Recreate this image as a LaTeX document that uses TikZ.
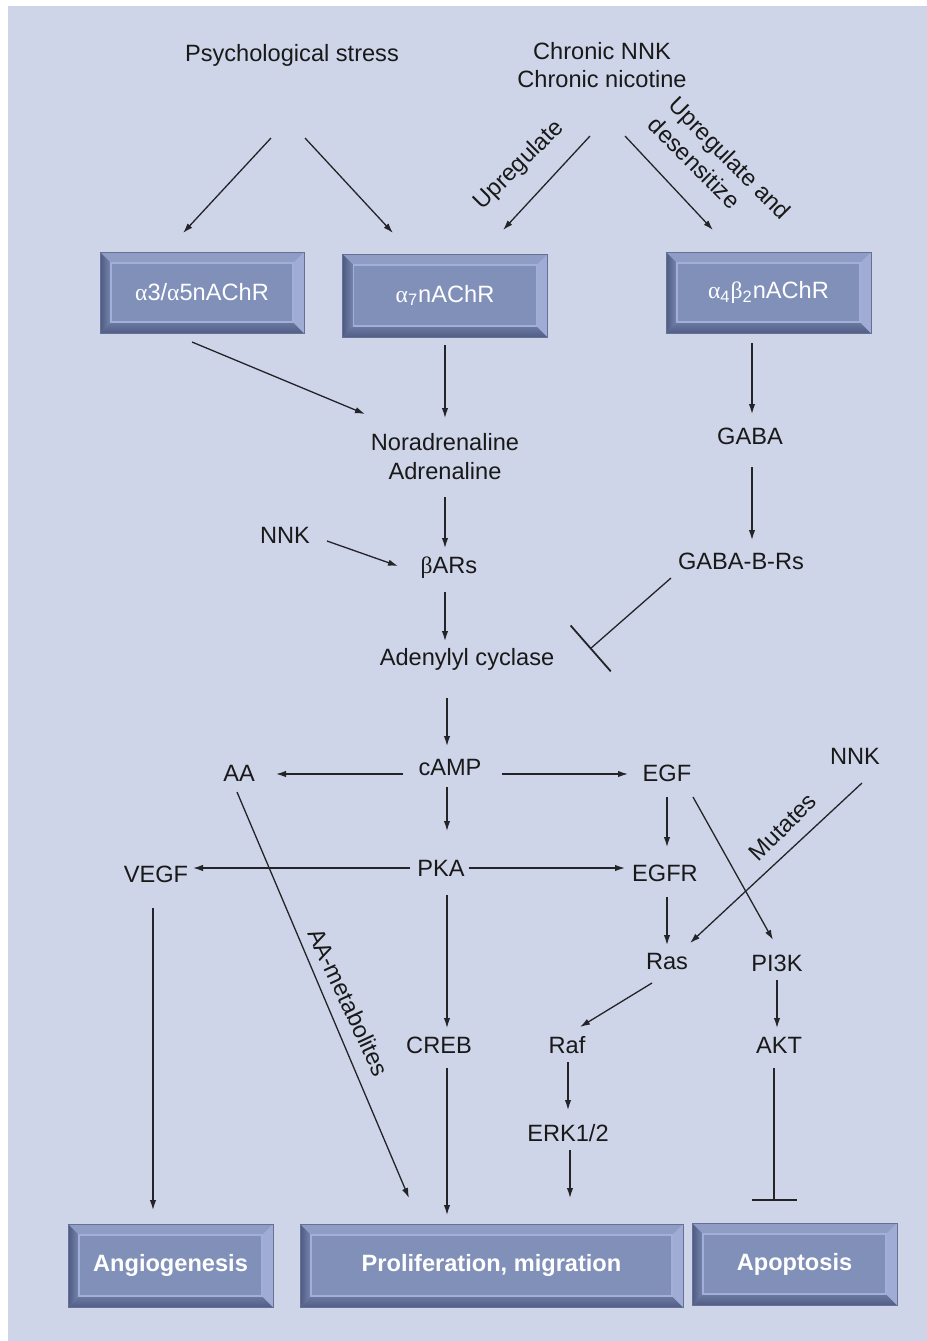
\documentclass[tikz,border=0pt]{standalone}
\usepackage{fontspec}
\setmainfont{Liberation Sans}
\newfontfamily\grk{Liberation Serif}
\usetikzlibrary{arrows.meta,calc}
\definecolor{bgc}{RGB}{207,213,233}
\definecolor{boxface}{RGB}{128,144,185}
\definecolor{boxline}{RGB}{100,112,150}
\definecolor{bevtop}{RGB}{143,157,196}
\definecolor{bevleftA}{RGB}{78,90,128}
\definecolor{bevleftB}{RGB}{120,135,177}
\definecolor{bevbotA}{RGB}{108,121,160}
\definecolor{bevbotB}{RGB}{82,94,134}
\definecolor{bevright}{RGB}{160,172,212}
\definecolor{innerline}{RGB}{162,175,214}
\definecolor{linec}{RGB}{35,35,40}
\newlength\bevw \setlength\bevw{5.5pt}
\newcommand\fs{\fontsize{11.8pt}{14.2pt}\selectfont}
\newcommand\galpha{{\grk α}}
\newcommand\gbeta{{\grk β}}
\tikzset{
 bev/.style 2 args={rectangle, minimum width=#1, minimum height=#2, inner sep=0pt,
  fill=boxface, draw=boxline, line width=0.5pt, text=white, font=\fs,
  path picture={
   \path (path picture bounding box.north west) coordinate (bNW)
         (path picture bounding box.north east) coordinate (bNE)
         (path picture bounding box.south west) coordinate (bSW)
         (path picture bounding box.south east) coordinate (bSE);
   \fill[bevtop] (bNW) -- (bNE) -- ([shift={(-\bevw,-\bevw)}]bNE) -- ([shift={(\bevw,-\bevw)}]bNW) -- cycle;
   \shade[left color=bevleftA, right color=bevleftB] (bNW) -- ([shift={(\bevw,-\bevw)}]bNW) -- ([shift={(\bevw,\bevw)}]bSW) -- (bSW) -- cycle;
   \shade[top color=bevbotA, bottom color=bevbotB] (bSW) -- ([shift={(\bevw,\bevw)}]bSW) -- ([shift={(-\bevw,\bevw)}]bSE) -- (bSE) -- cycle;
   \fill[bevright] (bNE) -- (bSE) -- ([shift={(-\bevw,\bevw)}]bSE) -- ([shift={(-\bevw,-\bevw)}]bNE) -- cycle;
   \draw[innerline, line width=0.6pt] ([shift={(\bevw,-\bevw)}]bNW) rectangle ([shift={(-\bevw,\bevw)}]bSE);
  }},
 txt/.style={font=\fs, inner sep=0pt, text height=9pt, text depth=2.5pt, text=black!90},
 multi/.style={font=\fs, inner sep=0pt, align=center, text=black!90},
 arr/.style={draw=linec, line width=0.65pt, -{Latex[length=5pt,width=3.2pt]}},
 inh/.style={draw=linec, line width=0.65pt, -{Bar[width=#1,line width=0.9pt]}},
}
\begin{document}
\begin{tikzpicture}[x=0.5pt,y=-0.5pt]
\useasboundingbox (0,0) rectangle (927,1341);
\fill[bgc] (8,6) rectangle (927,1341);

% text nodes
\node[txt] (ps) at (292,55) {Psychological stress};
\node[multi] (chr) at (602,65) {Chronic NNK\\Chronic nicotine};
\node[txt, rotate=45] (up1) at (519,165) {Upregulate};
\node[multi, align=left, rotate=-45] (up2) at (720,168) {Upregulate and\\desensitize};

% boxes
\node[bev={102pt}{40.5pt}] (a3) at (202,292.5) {\galpha3/\galpha5nAChR};
\node[bev={102.5pt}{41.5pt}] (a7) at (445,295.5) {\galpha\textsubscript{7}nAChR};
\node[bev={102.5pt}{40.5pt}] (a4) at (768.5,292.5) {\galpha\textsubscript{4}\gbeta\textsubscript{2}nAChR};

\node[multi] (nor) at (445,456.5) {Noradrenaline\\Adrenaline};
\node[txt] (gaba) at (750,438) {GABA};
\node[txt] (bars) at (449,567) {\gbeta ARs};
\node[txt] (nnk1) at (285,537) {NNK};
\node[txt] (gbr) at (741,563) {GABA-B-Rs};
\node[txt] (ac) at (467,659) {Adenylyl cyclase};
\node[txt] (camp) at (450,769) {cAMP};
\node[txt] (aa) at (239,775) {AA};
\node[txt] (egf) at (667,775) {EGF};
\node[txt] (pka) at (441,870) {PKA};
\node[txt] (vegf) at (156,876) {VEGF};
\node[txt] (egfr) at (665,875) {EGFR};
\node[txt] (nnk2) at (855,758) {NNK};
\node[txt, rotate=45] (mut) at (784,828) {Mutates};
\node[txt] (ras) at (667,963) {Ras};
\node[txt] (pi3k) at (777,965) {PI3K};
\node[txt] (raf) at (567,1047) {Raf};
\node[txt] (akt) at (779,1047) {AKT};
\node[txt] (creb) at (439,1047) {CREB};
\node[txt] (erk) at (568,1135) {ERK1/2};
\node[txt, rotate=-65] (aam) at (347,1003) {AA-metabolites};

\node[bev={102.5pt}{41.5pt}, font=\fs\bfseries] (ang) at (170.5,1265.5) {Angiogenesis};
\node[bev={191.5pt}{41.5pt}, font=\fs\bfseries] (pro) at (491.5,1265.5) {Proliferation, migration};
\node[bev={102.5pt}{41pt}, font=\fs\bfseries] (apo) at (794.5,1264) {Apoptosis};

% connectors
\draw[arr] ($(ps)+(-21,83)$) -- ($(a3)+(-19,-59.5)$);
\draw[arr] ($(ps)+(13,83)$) -- ($(a7)+(-52,-62.5)$);
\draw[arr] ($(chr)+(-12,71)$) -- ($(a7)+(58,-65.5)$);
\draw[arr] ($(chr)+(23,71)$) -- ($(a4)+(-55.5,-62.5)$);
\draw[arr] ($(a3)+(-10,49.5)$) -- ($(nor)+(-80,-42.5)$);
\draw[arr] ($(a7)+(0,49.5)$) -- ($(nor)+(0,-38.5)$);
\draw[arr] ($(a4)+(-16.5,50.5)$) -- ($(gaba)+(2,-24)$);
\draw[arr] ($(nor)+(0,40.5)$) -- ($(bars)+(-4,-19)$);
\draw[arr] ($(nnk1)+(42,4)$) -- ($(bars)+(-51,-1)$);
\draw[arr] ($(gaba)+(2,29)$) -- ($(gbr)+(11,-23)$);
\draw[arr] ($(bars)+(-4,25)$) -- ($(ac)+(-22,-18)$);
\draw[inh=30.5pt] ($(gbr)+(-70,15)$) -- ($(ac)+(123,-10)$);
\draw[arr] ($(ac)+(-20,39)$) -- ($(camp)+(-3,-23)$);
\draw[arr] ($(camp)+(-47,5)$) -- ($(aa)+(37,-1)$);
\draw[arr] ($(camp)+(52,5)$) -- ($(egf)+(-39,-1)$);
\draw[arr] ($(camp)+(-3,18)$) -- ($(pka)+(6,-39)$);
\draw[arr] ($(pka)+(-31,-2)$) -- ($(vegf)+(37,-8)$);
\draw[arr] ($(pka)+(28,-2)$) -- ($(egfr)+(-40,-7)$);
\draw[arr] ($(nnk2)+(7,25)$) -- ($(ras)+(23,-20)$);
\draw[arr] ($(egf)+(26,22)$) -- ($(pi3k)+(-4,-25)$);
\draw[arr] ($(egf)+(0,22)$) -- ($(egfr)+(2,-28)$);
\draw[arr] ($(egfr)+(2,22)$) -- ($(ras)+(0,-18)$);
\draw[arr] ($(ras)+(-15,20)$) -- ($(raf)+(13,-20)$);
\draw[arr] ($(pi3k)+(0,15)$) -- ($(akt)+(-2,-19)$);
\draw[arr] ($(pka)+(6,25)$) -- ($(creb)+(8,-19)$);
\draw[arr] ($(raf)+(1,15)$) -- ($(erk)+(0,-25)$);
\draw[arr] ($(erk)+(2,15)$) -- ($(pro)+(78.5,-67.5)$);
\draw[arr] ($(creb)+(8,21)$) -- ($(pro)+(-44.5,-50.5)$);
\draw[arr] ($(aa)+(-2,17)$) -- ($(pro)+(-82.5,-67.5)$);
\draw[arr] ($(vegf)+(-3,32)$) -- ($(ang)+(-17.5,-55.5)$);
\draw[inh=22.5pt] ($(akt)+(-5,21)$) -- ($(apo)+(-20.5,-63)$);
\end{tikzpicture}
\end{document}
